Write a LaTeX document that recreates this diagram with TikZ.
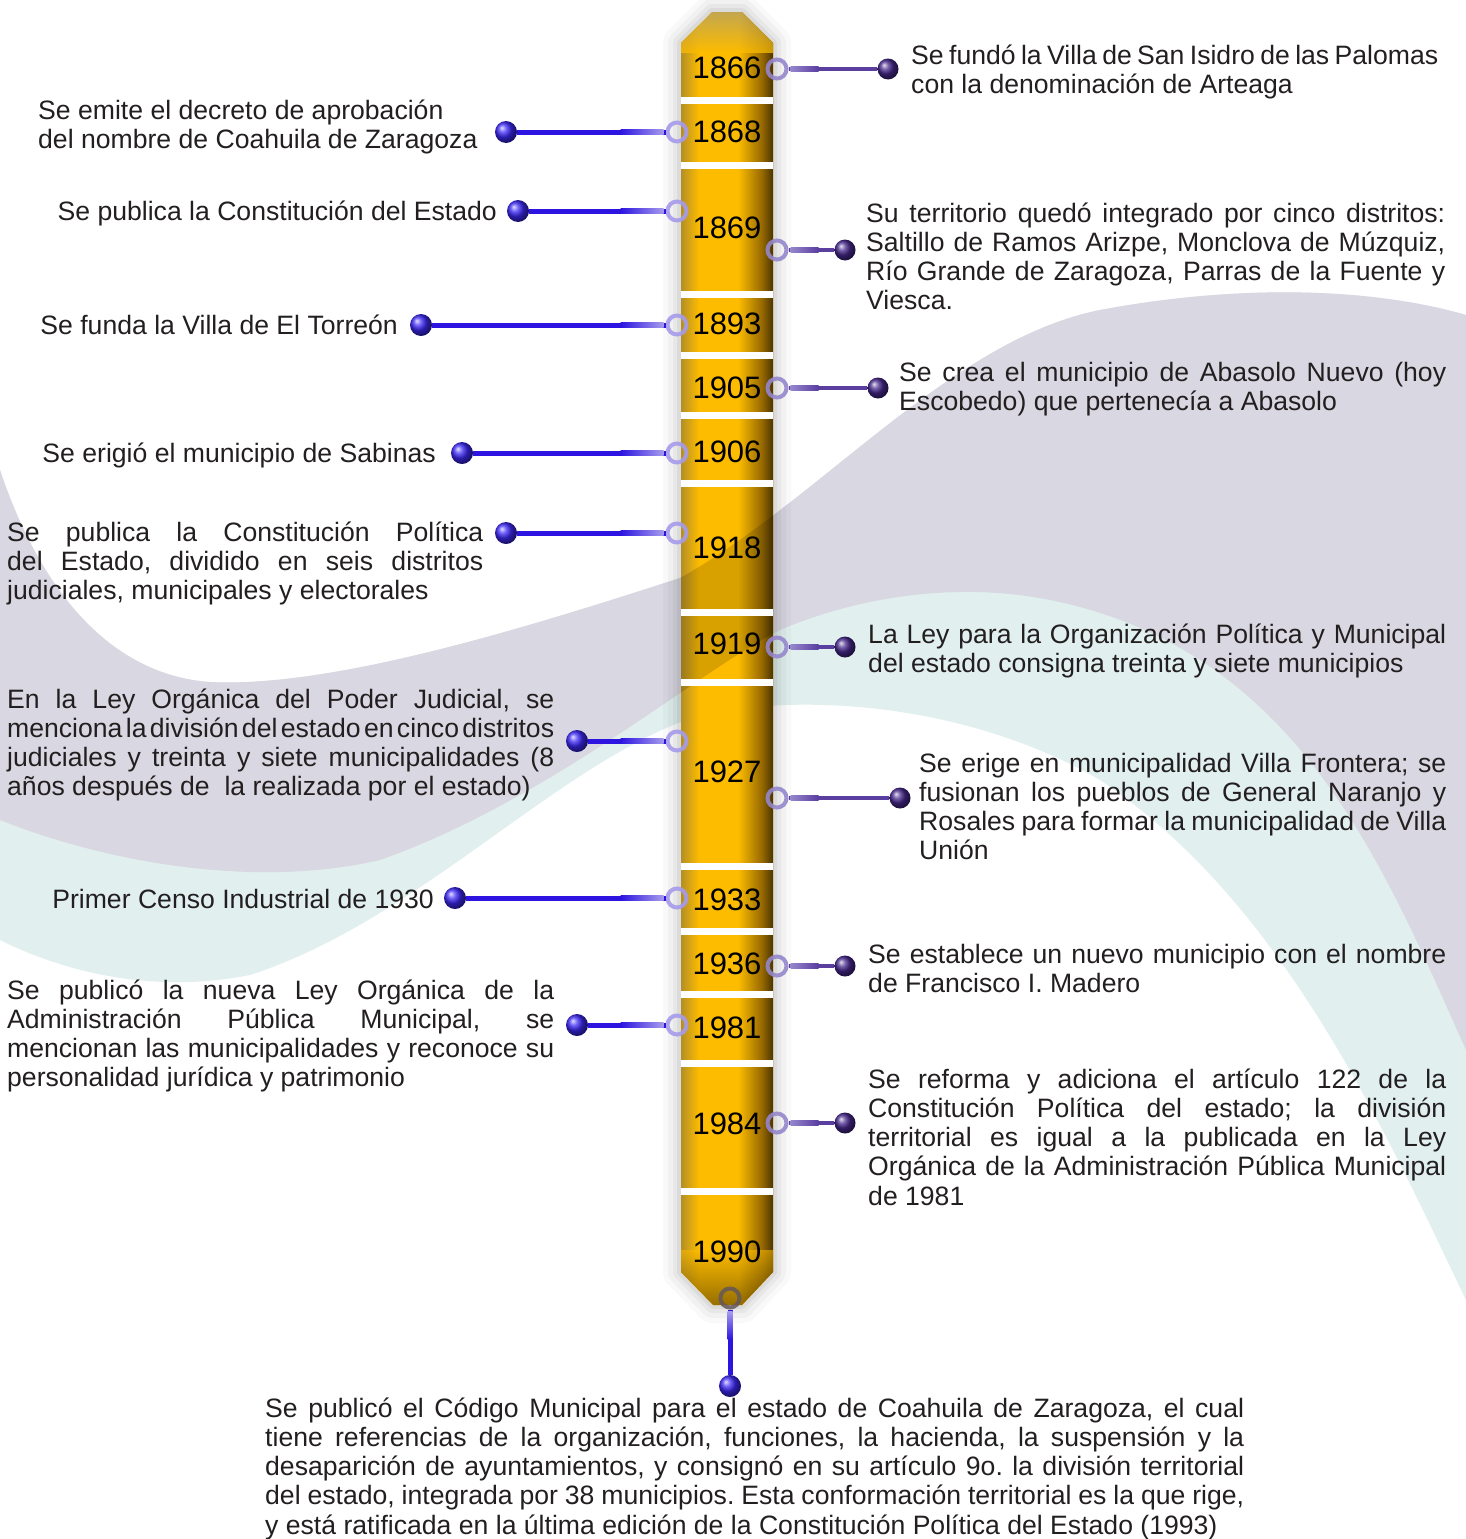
\documentclass[tikz,border=0pt]{standalone}
\usepackage{fontspec}
\setmainfont{Liberation Sans}
\usetikzlibrary{calc}

\definecolor{txtc}{RGB}{35,31,32}
\definecolor{bggray}{RGB}{217,215,225}
\definecolor{bgteal}{RGB}{225,240,239}
\definecolor{gold}{RGB}{253,188,0}
\definecolor{goldL}{RGB}{176,140,40}
\definecolor{goldD}{RGB}{150,105,0}
\definecolor{goldDD}{RGB}{60,42,0}
\definecolor{capc}{RGB}{172,158,112}
\definecolor{llinec}{RGB}{45,20,225}
\definecolor{lringc}{RGB}{165,155,235}
\definecolor{lballc}{RGB}{60,40,245}
\definecolor{rlinec}{RGB}{90,62,160}
\definecolor{rringc}{RGB}{150,135,205}
\definecolor{rballc}{RGB}{70,40,140}
\definecolor{bringc}{RGB}{100,88,90}

\newcommand\txtfont{\fontsize{26.6pt}{29.3pt}\selectfont\frenchspacing\spaceskip=0.278em plus 0.8em minus 0.17em\relax}
\newcommand\yrfont{\fontsize{31pt}{34pt}\selectfont}
\newcommand\J[1]{\makebox[\linewidth][s]{#1}}

\begin{document}
\begin{tikzpicture}[x=1pt,y=-1pt,
  txt/.style={font=\txtfont, text=txtc, inner sep=0pt},
  yr/.style={font=\yrfont, text=black, inner sep=0pt},
  ldot/.style={circle, inner sep=0pt, minimum size=22pt, shade, ball color=lballc},
  rdot/.style={circle, inner sep=0pt, minimum size=21pt, shade, ball color=rballc},
  lringst/.style={circle, inner sep=0pt, minimum size=19pt, draw=lringc, line width=4pt, draw opacity=0.9},
  rringst/.style={circle, inner sep=0pt, minimum size=19pt, draw=rringc, line width=4pt, draw opacity=0.9},
  bringst/.style={circle, inner sep=0pt, minimum size=19pt, draw=bringc, line width=4pt, draw opacity=0.85},
  lconn/.style={draw=llinec, line width=5pt},
  rconn/.style={draw=rlinec, line width=4.5pt},
  stripe/.style={fill=white}
]
\useasboundingbox (0,0) rectangle (1466,1539);
\fill[white] (0,0) rectangle (1466,1539);

% ---------- background swooshes ----------
\fill[bgteal] (0,470) .. controls (40,590) and (110,675) .. (210,682)
  .. controls (330,688) and (520,630) .. (680,578)
  .. controls (820,500) and (950,340) .. (1100,310)
  .. controls (1250,282) and (1380,290) .. (1466,315)
  -- (1466,1300) .. controls (1380,1120) and (1280,900) .. (1100,780)
  .. controls (980,710) and (820,690) .. (700,715)
  .. controls (560,760) and (420,920) .. (250,975)
  .. controls (150,995) and (60,970) .. (0,940) -- cycle;
\fill[bggray] (0,470) .. controls (40,590) and (110,675) .. (210,682)
  .. controls (330,688) and (520,630) .. (680,578)
  .. controls (820,500) and (950,340) .. (1100,310)
  .. controls (1250,282) and (1380,290) .. (1466,315)
  -- (1466,1050) .. controls (1385,870) and (1300,650) .. (1050,600)
  .. controls (950,580) and (850,600) .. (780,630)
  .. controls (700,670) and (550,800) .. (380,860)
  .. controls (250,890) and (100,860) .. (0,820) -- cycle;

% ---------- bar shadow ----------
\foreach \w/\o in {36/0.025, 26/0.03, 16/0.04, 8/0.05} {
  \draw[line width=\w pt, black, opacity=\o, line join=round]
    (681,43) -- (712,12) -- (742,12) -- (773,43) -- (773,1272) -- (742,1305) -- (713,1305) -- (681,1272) -- cycle;
}

% ---------- bar ----------
\fill[gold] (681,43) -- (712,12) -- (742,12) -- (773,43) -- (773,1272) -- (742,1305) -- (713,1305) -- (681,1272) -- cycle;
\begin{scope}
  \clip (681,43) -- (712,12) -- (742,12) -- (773,43) -- (773,1272) -- (742,1305) -- (713,1305) -- (681,1272) -- cycle;
  \shade[left color=goldL, right color=gold] (680,0) rectangle (699,1310);
  \shade[left color=gold, right color=goldD] (738,0) rectangle (762,1310);
  \shade[left color=goldD, right color=goldDD] (762,0) rectangle (775,1310);
  \shade[top color=capc, bottom color=gold, opacity=0.75] (680,10) rectangle (775,52);
  \shade[top color=gold, bottom color=goldDD, opacity=0.55] (680,1250) rectangle (775,1307);
  \fill[black, opacity=0.14] (0,470) .. controls (40,590) and (110,675) .. (210,682)
    .. controls (330,688) and (520,630) .. (680,578)
    .. controls (820,500) and (950,340) .. (1100,310)
    .. controls (1250,282) and (1380,290) .. (1466,315)
    -- (1466,1050) .. controls (1385,870) and (1300,650) .. (1050,600)
    .. controls (950,580) and (850,600) .. (780,630)
    .. controls (700,670) and (550,800) .. (380,860)
    .. controls (250,890) and (100,860) .. (0,820) -- cycle;
\end{scope}
\foreach \s in {97,162,291,352,412,480,609,679,863,928,991,1060,1188} {
  \fill[stripe] (681,\s) rectangle (773,\s+7);
}

% ---------- rings and dots ----------
\node[lringst] (lr1) at (677,132) {};
\node[lringst] (lr2) at (677,211) {};
\node[lringst] (lr3) at (677,325) {};
\node[lringst] (lr4) at (677,453) {};
\node[lringst] (lr5) at (677,533) {};
\node[lringst] (lr6) at (677,741) {};
\node[lringst] (lr7) at (677,898) {};
\node[lringst] (lr8) at (677,1025) {};
\node[ldot] (ld1) at (506,132) {};
\node[ldot] (ld2) at (518,211) {};
\node[ldot] (ld3) at (421,325) {};
\node[ldot] (ld4) at (462,453) {};
\node[ldot] (ld5) at (506,533) {};
\node[ldot] (ld6) at (577,741) {};
\node[ldot] (ld7) at (455,898) {};
\node[ldot] (ld8) at (577,1025) {};

\node[rringst] (rr1) at (777,69) {};
\node[rringst] (rr2) at (777,250) {};
\node[rringst] (rr3) at (777,388) {};
\node[rringst] (rr4) at (777,647) {};
\node[rringst] (rr5) at (777,798) {};
\node[rringst] (rr6) at (777,966) {};
\node[rringst] (rr7) at (777,1123) {};
\node[rdot] (rd1) at (888,69) {};
\node[rdot] (rd2) at (845,250) {};
\node[rdot] (rd3) at (878,388) {};
\node[rdot] (rd4) at (845,647) {};
\node[rdot] (rd5) at (900,798) {};
\node[rdot] (rd6) at (845,966) {};
\node[rdot] (rd7) at (845,1123) {};

\node[bringst] (br) at (730,1298) {};
\node[ldot] (bd) at (730,1386) {};

% ---------- connectors ----------
\foreach \i in {1,...,8} {
  \draw[lconn] (ld\i) -- (lr\i);
  \shade[left color=llinec, right color=lringc] ($(lr\i.west)+(-45,-2.5)$) rectangle ($(lr\i.west)+(-2,2.5)$);
}
\foreach \i in {1,...,7} {
  \draw[rconn] (rr\i) -- (rd\i);
  \shade[left color=rringc, right color=rlinec] ($(rr\i.east)+(2,-2.25)$) rectangle ($(rr\i.east)+(30,2.25)$);
}
\draw[lconn] (br) -- (bd);
\shade[top color=lringc, bottom color=llinec] ($(br.south)+(-2.5,2)$) rectangle ($(br.south)+(2.5,30)$);

% ---------- years ----------
\node[yr] (y1866) at (727,68) {1866};
\node[yr] (y1868) at (727,132) {1868};
\node[yr] (y1869) at (727,228) {1869};
\node[yr] (y1893) at (727,324) {1893};
\node[yr] (y1905) at (727,388) {1905};
\node[yr] (y1906) at (727,452) {1906};
\node[yr] (y1918) at (727,548) {1918};
\node[yr] (y1919) at (727,644) {1919};
\node[yr] (y1927) at (727,772) {1927};
\node[yr] (y1933) at (727,900) {1933};
\node[yr] (y1936) at (727,964) {1936};
\node[yr] (y1981) at (727,1028) {1981};
\node[yr] (y1984) at (727,1124) {1984};
\node[yr] (y1990) at (727,1252) {1990};

% ---------- right texts ----------
\node[txt, anchor=base west] (tR1) at (911,64) {\parbox[t]{527pt}{\J{Se fundó la Villa de San Isidro de las Palomas}\\con la denominación de Arteaga}};
\node[txt, anchor=base west] (tR2) at (866,222) {\parbox[t]{579pt}{\J{Su territorio quedó integrado por cinco distritos:}\\\J{Saltillo de Ramos Arizpe, Monclova de Múzquiz,}\\\J{Río Grande de Zaragoza, Parras de la Fuente y}\\Viesca.}};
\node[txt, anchor=base west] (tR3) at (899,381) {\parbox[t]{547pt}{\J{Se crea el municipio de Abasolo Nuevo (hoy}\\Escobedo) que pertenecía a Abasolo}};
\node[txt, anchor=base west] (tR4) at (868,643) {\parbox[t]{578pt}{\J{La Ley para la Organización Política y Municipal}\\del estado consigna treinta y siete municipios}};
\node[txt, anchor=base west] (tR5) at (919,772) {\parbox[t]{527pt}{\J{Se erige en municipalidad Villa Frontera; se}\\\J{fusionan los pueblos de General Naranjo y}\\\J{Rosales para formar la municipalidad de Villa}\\Unión}};
\node[txt, anchor=base west] (tR6) at (868,963) {\parbox[t]{578pt}{\J{Se establece un nuevo municipio con el nombre}\\de Francisco I. Madero}};
\node[txt, anchor=base west] (tR7) at (868,1088) {\parbox[t]{578pt}{\J{Se reforma y adiciona el artículo 122 de la}\\\J{Constitución Política del estado; la división}\\\J{territorial es igual a la publicada en la Ley}\\\J{Orgánica de la Administración Pública Municipal}\\de 1981}};

% ---------- left texts ----------
\node[txt, anchor=base west] (tL1) at (38,119) {\parbox[t]{460pt}{Se emite el decreto de aprobación\\del nombre de Coahuila de Zaragoza}};
\node[txt, anchor=base east] (tL2) at (497,220) {Se publica la Constitución del Estado};
\node[txt, anchor=base east] (tL3) at (398,334) {Se funda la Villa de El Torreón};
\node[txt, anchor=base east] (tL4) at (436,462) {Se erigió el municipio de Sabinas};
\node[txt, anchor=base west] (tL5) at (7,541) {\parbox[t]{476pt}{\J{Se publica la Constitución Política}\\\J{del Estado, dividido en seis distritos}\\judiciales, municipales y electorales}};
\node[txt, anchor=base west] (tL6) at (7,708) {\parbox[t]{547pt}{\J{En la Ley Orgánica del Poder Judicial, se}\\\J{menciona la división del estado en cinco distritos}\\\J{judiciales y treinta y siete municipalidades (8}\\años después de \ la realizada por el estado)}};
\node[txt, anchor=base east] (tL7) at (434,908) {Primer Censo Industrial de 1930};
\node[txt, anchor=base west] (tL8) at (7,999) {\parbox[t]{547pt}{\J{Se publicó la nueva Ley Orgánica de la}\\\J{Administración Pública Municipal, se}\\\J{mencionan las municipalidades y reconoce su}\\personalidad jurídica y patrimonio}};

% ---------- bottom text ----------
\node[txt, anchor=base west] (tB) at (265,1417) {\parbox[t]{979pt}{\J{Se publicó el Código Municipal para el estado de Coahuila de Zaragoza, el cual}\\\J{tiene referencias de la organización, funciones, la hacienda, la suspensión y la}\\\J{desaparición de ayuntamientos, y consignó en su artículo 9o. la división territorial}\\\J{del estado, integrada por 38 municipios. Esta conformación territorial es la que rige,}\\y está ratificada en la última edición de la Constitución Política del Estado (1993)}};
\end{tikzpicture}
\end{document}
